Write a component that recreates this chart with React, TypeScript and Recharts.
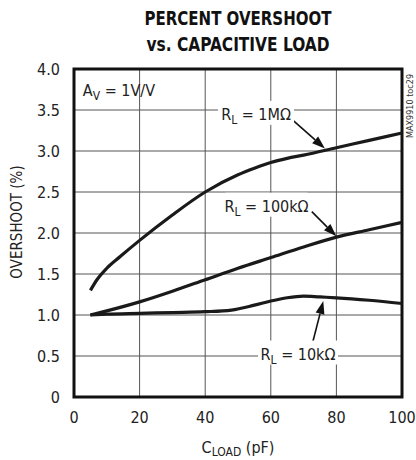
import React from 'react';
import {
  LineChart,
  Line,
  XAxis,
  YAxis,
  CartesianGrid,
  ReferenceArea,
  ReferenceDot,
  ReferenceLine,
} from 'recharts';

// ---- data ----
const cLoad1M = [5, 7, 10, 14, 20, 30, 40, 50, 55, 60, 65, 70, 80, 90, 100];
const overshoot1M = [1.3, 1.43, 1.57, 1.71, 1.91, 2.22, 2.5, 2.71, 2.79, 2.86, 2.91, 2.95, 3.04, 3.13, 3.22];
const cLoad100k = [5, 10, 20, 30, 40, 50, 60, 70, 80, 90, 100];
const overshoot100k = [1.0, 1.05, 1.16, 1.29, 1.43, 1.57, 1.7, 1.83, 1.95, 2.04, 2.13];
const cLoad10k = [5, 10, 20, 30, 40, 48, 55, 60, 65, 70, 75, 80, 90, 100];
const overshoot10k = [1.0, 1.01, 1.02, 1.03, 1.04, 1.06, 1.12, 1.17, 1.21, 1.23, 1.22, 1.21, 1.18, 1.14];

const xTicks = [0, 20, 40, 60, 80, 100];
const yTicks = [0, 0.5, 1.0, 1.5, 2.0, 2.5, 3.0, 3.5, 4.0];

const titleLines = ['PERCENT OVERSHOOT', 'vs. CAPACITIVE LOAD'];

const toSeries = (xs: number[], ys: number[]) => xs.map((c, i) => ({ c, v: ys[i] }));
const data1M = toSeries(cLoad1M, overshoot1M);
const data100k = toSeries(cLoad100k, overshoot100k);
const data10k = toSeries(cLoad10k, overshoot10k);

const FONT = "'Liberation Sans Narrow', 'DejaVu Sans Condensed', 'Arial Narrow', sans-serif";
const TEXT = '#222';

const arrowShape = (p: any) => {
  const { x1, y1, x2, y2 } = p;
  const ang = Math.atan2(y2 - y1, x2 - x1);
  const L = 13;
  const W = 4.5;
  const bx = x2 - L * Math.cos(ang);
  const by = y2 - L * Math.sin(ang);
  const nx = -Math.sin(ang);
  const ny = Math.cos(ang);
  return (
    <g>
      <line x1={x1} y1={y1} x2={bx} y2={by} stroke="#111" strokeWidth={1.6} />
      <polygon
        points={`${x2},${y2} ${bx + W * nx},${by + W * ny} ${bx - W * nx},${by - W * ny}`}
        fill="#111"
      />
    </g>
  );
};

const makeLabel = (main: string, sub: string, rest: string, bgW: number, bgH: number, anchor: 'middle' | 'start') =>
  (p: any) => {
    const { cx, cy } = p;
    const rx = anchor === 'middle' ? cx - bgW / 2 : cx - 3;
    return (
      <g>
        {bgW > 0 && <rect x={rx} y={cy - bgH + 5} width={bgW} height={bgH} fill="#fff" />}
        <text x={cx} y={cy} textAnchor={anchor} fontFamily={FONT} fontSize={16} fill={TEXT}>
          {main}
          <tspan fontSize={12} dy={4}>{sub}</tspan>
          <tspan dy={-4}>{rest}</tspan>
        </text>
      </g>
    );
  };

const xLabel = () => (
  <text x={238} y={453} textAnchor="middle" fontFamily={FONT} fontSize={16} fill={TEXT}>
    C<tspan fontSize={12} dy={3}>LOAD</tspan>
    <tspan dy={-3}> (pF)</tspan>
  </text>
);

const yLabel = () => (
  <text
    x={0}
    y={0}
    transform="translate(22,222) rotate(-90)"
    textAnchor="middle"
    fontFamily={FONT}
    fontSize={15}
    fill={TEXT}
  >
    OVERSHOOT (%)
  </text>
);

export default function App() {
  return (
    <div style={{ position: 'absolute', left: 0, top: 0, width: 416, height: 460, background: '#fff' }}>
      <LineChart width={416} height={460} margin={{ top: 69, right: 14, bottom: 33, left: 0 }}>
        <CartesianGrid stroke="#555" strokeWidth={1} />
        <XAxis
          type="number"
          dataKey="c"
          domain={[0, 100]}
          ticks={xTicks}
          allowDuplicatedCategory={false}
          tickLine={false}
          axisLine={false}
          tickSize={0}
          tickMargin={15}
          height={30}
          tick={{ fontFamily: FONT, fontSize: 16, fill: TEXT }}
          label={xLabel}
        />
        <YAxis
          type="number"
          dataKey="v"
          domain={[0, 4]}
          ticks={yTicks}
          tickLine={false}
          axisLine={false}
          tickSize={0}
          tickMargin={14}
          width={74}
          tickFormatter={(v: number) => (v === 0 ? '0' : v.toFixed(1))}
          tick={{ fontFamily: FONT, fontSize: 16, fill: TEXT }}
          label={yLabel}
        />
        <ReferenceArea x1={0} x2={100} y1={0} y2={4} fill="none" stroke="#111" strokeWidth={3} ifOverflow="visible" />
        <Line data={data1M} dataKey="v" type="monotone" stroke="#1a1a1a" strokeWidth={3.2} dot={false} isAnimationActive={false} />
        <Line data={data100k} dataKey="v" type="monotone" stroke="#1a1a1a" strokeWidth={3.2} dot={false} isAnimationActive={false} />
        <Line data={data10k} dataKey="v" type="monotone" stroke="#1a1a1a" strokeWidth={3.2} dot={false} isAnimationActive={false} />

        <ReferenceDot x={2.7} y={3.67} r={0} shape={makeLabel('A', 'V', ' = 1V/V', 0, 0, 'start')} ifOverflow="visible" />
        <ReferenceDot x={55.5} y={3.38} r={0} shape={makeLabel('R', 'L', ' = 1MΩ', 76, 24, 'middle')} ifOverflow="visible" />
        <ReferenceDot x={58.7} y={2.26} r={0} shape={makeLabel('R', 'L', ' = 100kΩ', 82, 24, 'middle')} ifOverflow="visible" />
        <ReferenceDot x={68.3} y={0.457} r={0} shape={makeLabel('R', 'L', ' = 10kΩ', 80, 24, 'middle')} ifOverflow="visible" />

        <ReferenceLine segment={[{ x: 66, y: 3.4 }, { x: 76.5, y: 3.03 }]} shape={arrowShape} ifOverflow="visible" />
        <ReferenceLine segment={[{ x: 72.5, y: 2.26 }, { x: 80, y: 1.96 }]} shape={arrowShape} ifOverflow="visible" />
        <ReferenceLine segment={[{ x: 72.8, y: 0.67 }, { x: 76, y: 1.17 }]} shape={arrowShape} ifOverflow="visible" />
      </LineChart>
      <svg
        width={416}
        height={460}
        style={{ position: 'absolute', left: 0, top: 0, pointerEvents: 'none' }}
      >
        <text x={238} y={25} textAnchor="middle" fontFamily={FONT} fontWeight="bold" fontSize={20} fill="#111"
          textLength={187} lengthAdjust="spacingAndGlyphs">
          {titleLines[0]}
        </text>
        <text x={238} y={51} textAnchor="middle" fontFamily={FONT} fontWeight="bold" fontSize={20} fill="#111"
          textLength={183} lengthAdjust="spacingAndGlyphs">
          {titleLines[1]}
        </text>
        <text
          x={0}
          y={0}
          transform="translate(413,106) rotate(-90)"
          textAnchor="middle"
          fontFamily={FONT}
          fontSize={9}
          fill="#333"
        >
          MAX9910 toc29
        </text>
      </svg>
    </div>
  );
}
